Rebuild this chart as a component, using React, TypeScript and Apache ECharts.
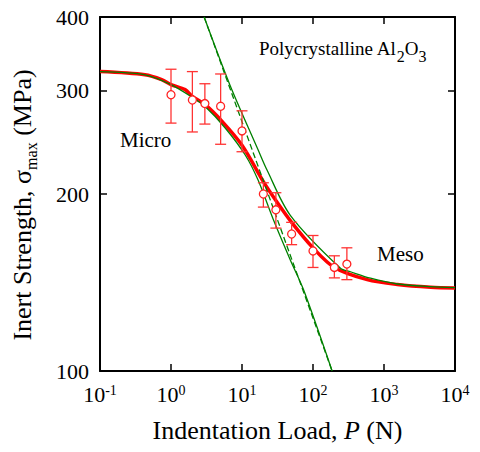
import React, { useEffect, useRef } from 'react';
import * as echarts from 'echarts';

// Measured data points (indentation load P in N, strength in MPa)
const pointLoads = [1, 2, 3, 5, 10, 20, 30, 50, 100, 200, 300];
const pointStrength = [295, 289, 285, 282, 256, 200, 188, 171, 160, 150, 152];
const errLow = [264, 255, 263, 243, 236, 190, 175, 164, 150, 144, 143];
const errHigh = [326, 323, 308, 320, 277, 209, 201, 179, 170, 157, 162];

// Combined fit (red)
const redLoads = [0.1, 0.43, 0.74, 1, 1.58, 2, 3, 5.2, 10, 20, 30, 50, 100, 200, 580, 1540, 4550, 10000];
const redStrength = [323, 319, 313, 307, 301, 293, 284, 266, 242, 210, 195, 179, 162, 150, 143, 140.3, 138.8, 138.4];

// Micro branch (green solid, left)
const microLoads = [0.1, 0.43, 1, 2, 3, 5.8, 11.1, 16.9, 27.6, 47.9, 73.9, 186];
const microStrength = [323, 319, 307, 292, 282, 259, 233, 211, 181, 154.5, 137.3, 100];

// Meso branch (green solid, right)
const mesoLoads = [2.93, 6.8, 16.9, 22.5, 47.9, 244, 337, 646, 1540, 4550, 10000];
const mesoStrength = [400, 306, 237.6, 219.7, 184, 149.5, 147.5, 143.8, 140.6, 139.1, 138.6];

// Power-law asymptote (green dashed)
const powerLoads = [2.93, 186];
const powerStrength = [400, 100];

const xExponents = [-1, 0, 1, 2, 3, 4];
const yTickValues = [100, 200, 300, 400];

const FONT = '"Liberation Serif", "Times New Roman", serif';
const lg = Math.log10;
const pairs = (xs: number[], ys: number[]) => xs.map((x, i) => [lg(x), lg(ys[i])]);

export default function App() {
  const ref = useRef<HTMLDivElement>(null);
  useEffect(() => {
    if (!ref.current) return;
    const chart = echarts.init(ref.current, undefined, { renderer: 'svg' });
    const yMin = lg(yTickValues[0]);
    const yMax = lg(yTickValues[yTickValues.length - 1]);
    const yCustom = yTickValues.map(lg);
    const axisLine = { show: true, onZero: false, lineStyle: { color: '#000', width: 2 } };
    const axisTick = { show: true, inside: true, length: 7, lineStyle: { color: '#000', width: 1.5 } };
    const xMin = xExponents[0];
    const xMax = xExponents[xExponents.length - 1];

    chart.setOption({
      animation: false,
      backgroundColor: '#fff',
      grid: { left: 100, right: 25, top: 17, bottom: 81 },
      xAxis: [
        {
          type: 'value', min: xMin, max: xMax, interval: 1, position: 'bottom',
          axisLine, axisTick, splitLine: { show: false },
          axisLabel: {
            margin: 12,
            formatter: (v: number) => `{b|10}{s|${v}}`,
            rich: {
              b: { fontFamily: FONT, fontSize: 22, color: '#000' },
              s: { fontFamily: FONT, fontSize: 14, color: '#000', verticalAlign: 'top' },
            },
          },
          name: '{t|Indentation Load, }{i|P}{t| (N)}',
          nameLocation: 'middle',
          nameGap: 46,
          nameTextStyle: {
            rich: {
              t: { fontFamily: FONT, fontSize: 26, color: '#000' },
              i: { fontFamily: FONT, fontSize: 26, color: '#000', fontStyle: 'italic' },
            },
          },
        },
        {
          type: 'value', min: xMin, max: xMax, interval: 1, position: 'top',
          axisLine, axisTick, splitLine: { show: false }, axisLabel: { show: false },
        },
      ],
      yAxis: [
        {
          type: 'value', min: yMin, max: yMax, position: 'left',
          axisLine,
          axisTick: { ...axisTick, customValues: yCustom },
          splitLine: { show: false },
          axisLabel: {
            customValues: yCustom,
            margin: 11,
            fontFamily: FONT, fontSize: 22, color: '#000',
            formatter: (v: number) => String(Math.round(Math.pow(10, v))),
          },
          name: '{t|Inert Strength, σ}{s|max}{t| (MPa)}',
          nameLocation: 'middle',
          nameRotate: 90,
          nameGap: 61,
          nameTextStyle: {
            padding: [0, 22, 0, 0],
            rich: {
              t: { fontFamily: FONT, fontSize: 26, color: '#000', verticalAlign: 'top' },
              s: { fontFamily: FONT, fontSize: 16, color: '#000', verticalAlign: 'bottom', padding: [14, 0, 0, 0] },
            },
          },
        },
        {
          type: 'value', min: yMin, max: yMax, position: 'right',
          axisLine,
          axisTick: { ...axisTick, customValues: yCustom },
          splitLine: { show: false },
          axisLabel: { show: false },
        },
      ],
      graphic: [
        {
          type: 'text', x: 259, y: 39,
          style: {
            text: '{t|Polycrystalline Al}{s|2}{t|O}{s|3}',
            rich: {
              t: { fontFamily: FONT, fontSize: 19, fill: '#000', verticalAlign: 'top' },
              s: { fontFamily: FONT, fontSize: 16, fill: '#000', verticalAlign: 'bottom', padding: [9, 0, 0, 0] },
            },
          },
        },
        {
          type: 'text', x: 120, y: 129,
          style: { text: 'Micro', fontFamily: FONT, fontSize: 21, fill: '#000' },
        },
        {
          type: 'text', x: 377, y: 243,
          style: { text: 'Meso', fontFamily: FONT, fontSize: 21, fill: '#000' },
        },
      ],
      series: [
        {
          type: 'line', data: pairs(redLoads, redStrength), smooth: 0.3,
          symbol: 'none', lineStyle: { color: '#ff0000', width: 3.5 }, z: 2,
        },
        {
          type: 'line', data: pairs(microLoads, microStrength), smooth: 0.3,
          symbol: 'none', lineStyle: { color: '#008000', width: 1.3 }, z: 3,
        },
        {
          type: 'line', data: pairs(mesoLoads, mesoStrength), smooth: 0.3,
          symbol: 'none', lineStyle: { color: '#008000', width: 1.3 }, z: 3,
        },
        {
          type: 'line', data: pairs(powerLoads, powerStrength),
          symbol: 'none', lineStyle: { color: '#008000', width: 1.3, type: [6, 3] }, z: 3,
        },
        {
          type: 'custom',
          data: pointLoads.map((p, i) => [lg(p), lg(errLow[i]), lg(errHigh[i])]),
          encode: { x: 0, y: [1, 2] },
          z: 4,
          renderItem: (params: any, api: any) => {
            const x = api.value(0);
            const lo = api.coord([x, api.value(1)]);
            const hi = api.coord([x, api.value(2)]);
            const hw = 5.5;
            const style = { stroke: '#ff3333', lineWidth: 1.3 };
            return {
              type: 'group',
              children: [
                { type: 'line', shape: { x1: lo[0], y1: lo[1], x2: hi[0], y2: hi[1] }, style },
                { type: 'line', shape: { x1: lo[0] - hw, y1: lo[1], x2: lo[0] + hw, y2: lo[1] }, style },
                { type: 'line', shape: { x1: hi[0] - hw, y1: hi[1], x2: hi[0] + hw, y2: hi[1] }, style },
              ],
            };
          },
        },
        {
          type: 'scatter', data: pairs(pointLoads, pointStrength),
          symbol: 'circle', symbolSize: 8, z: 5,
          itemStyle: { color: '#ffffff', borderColor: '#ff2222', borderWidth: 1.3, opacity: 1 },
        },
      ],
    });
    return () => chart.dispose();
  }, []);
  return <div ref={ref} style={{ width: 480, height: 452, margin: -8 }} />;
}
